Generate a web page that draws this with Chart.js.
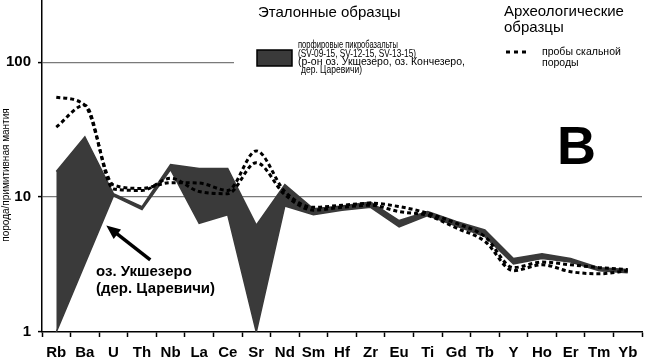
<!DOCTYPE html>
<html>
<head>
<meta charset="utf-8">
<script src="https://cdn.jsdelivr.net/npm/chart.js@4/dist/chart.umd.min.js"></script>
<style>
  body { margin: 0; background: #fff; }
  #wrap { width: 646px; height: 361px; }
</style>
</head>
<body>
<div id="wrap"><canvas id="chart" width="646" height="361"></canvas></div>
<script>
// elements along the x axis
const categories = ['Rb', 'Ba', 'U', 'Th', 'Nb', 'La', 'Ce', 'Sr', 'Nd', 'Sm', 'Hf', 'Zr', 'Eu', 'Ti', 'Gd', 'Tb', 'Y', 'Ho', 'Er', 'Tm', 'Yb']

// reference picrobasalts: envelope of the samples
const bandUpper = [15.5, 28, 10.6, 8.5, 17.4, 16.3, 16.3, 6.2, 12.4, 8.2, 8.6, 9.2, 6.7, 7.8, 6.6, 5.7, 3.5, 3.8, 3.5, 3.0, 2.9]
const bandLower = [1, 3.2, 10.2, 8.1, 16.0, 6.4, 7.4, 1, 8.6, 7.4, 8.0, 8.4, 6.0, 7.3, 6.1, 5.1, 3.2, 3.5, 3.3, 2.85, 2.75]

// archaeological rock samples
const rockA = [55, 48, 12.3, 11.6, 12.8, 12.7, 11.2, 22, 11.0, 8.4, 8.7, 9.0, 8.5, 7.6, 6.4, 5.1, 3.0, 3.3, 3.15, 3.0, 2.9]
const rockB = [33, 48, 11.5, 11.2, 13.8, 11.0, 10.6, 18, 10.4, 8.0, 8.4, 8.7, 7.8, 7.3, 5.9, 4.7, 2.85, 3.15, 2.8, 2.7, 2.85]

const yTicks = [1, 10, 100]

const FONT = '"Liberation Sans", Arial, sans-serif'
const bandColor = '#3a3a3a'

const dashed = (data) => ({
  data: data,
  borderColor: '#000',
  borderWidth: 3,
  borderDash: [4, 3],
  pointRadius: 0,
  fill: false,
  cubicInterpolationMode: 'monotone'
})

// legend, titles and the arrow note
const decor = {
  id: 'decor',
  beforeDatasetsDraw(chart) {
    const ctx = chart.ctx
    ctx.save()
    ctx.fillStyle = '#fff'
    ctx.fillRect(234, 55, 412, 14)
    ctx.restore()
  },
  afterDraw(chart) {
    const ctx = chart.ctx
    const x = chart.scales.x
    const y = chart.scales.y
    ctx.save()
    ctx.fillStyle = '#000'
    ctx.textBaseline = 'middle'

    // y title
    ctx.save()
    ctx.translate(6, 175)
    ctx.rotate(-Math.PI / 2)
    ctx.textAlign = 'center'
    ctx.font = '10px ' + FONT
    ctx.fillText('порода/примитивная мантия', 0, 0)
    ctx.restore()

    ctx.textAlign = 'left'
    ctx.font = '15px ' + FONT
    ctx.fillText('Эталонные образцы', 258, 13)
    ctx.fillText('Археологические', 504, 12)
    ctx.fillText('образцы', 504, 28)

    // band swatch
    ctx.fillStyle = bandColor
    ctx.fillRect(257, 50, 35, 16)
    ctx.strokeStyle = '#000'
    ctx.lineWidth = 1.5
    ctx.strokeRect(257, 50, 35, 16)

    ctx.fillStyle = '#000'
    ctx.font = '10.5px ' + FONT
    ctx.fillText('порфировые пикробазальты', 298, 45.5, 100)
    ctx.fillText('(SV-09-15, SV-12-15, SV-13-15)', 298, 53.8, 118)
    ctx.fillText('(р-он оз. Укшезеро, оз. Кончезеро,', 298, 62, 170)
    ctx.fillText('дер. Царевичи)', 301, 70.3, 61)

    // dashed swatch
    ctx.setLineDash([4, 4])
    ctx.lineWidth = 3
    ctx.beginPath()
    ctx.moveTo(506, 52)
    ctx.lineTo(528, 52)
    ctx.stroke()
    ctx.setLineDash([])
    ctx.fillText('пробы скальной', 542, 52, 82)
    ctx.fillText('породы', 542, 63)

    // big panel letter
    ctx.font = 'bold 54px ' + FONT
    ctx.textBaseline = 'alphabetic'
    ctx.fillText('B', 557, 164)

    // note with arrow
    ctx.textBaseline = 'middle'
    ctx.font = 'bold 15px ' + FONT
    ctx.fillText('оз. Укшезеро', 96, 271.5)
    ctx.fillText('(дер. Царевичи)', 96, 288.5)

    const hx = x.getPixelForValue(1.75), hy = y.getPixelForValue(6.15)
    const tx = x.getPixelForValue(3.29), ty = y.getPixelForValue(3.43)
    const ang = Math.atan2(hy - ty, hx - tx)
    ctx.lineWidth = 3.5
    ctx.beginPath()
    ctx.moveTo(tx, ty)
    ctx.lineTo(hx - 8 * Math.cos(ang), hy - 8 * Math.sin(ang))
    ctx.stroke()
    ctx.beginPath()
    ctx.moveTo(hx, hy)
    ctx.lineTo(hx - 14 * Math.cos(ang) + 6 * Math.sin(ang), hy - 14 * Math.sin(ang) - 6 * Math.cos(ang))
    ctx.lineTo(hx - 14 * Math.cos(ang) - 6 * Math.sin(ang), hy - 14 * Math.sin(ang) + 6 * Math.cos(ang))
    ctx.closePath()
    ctx.fill()
    ctx.restore()
  }
}

new Chart(document.getElementById('chart'), {
  type: 'line',
  data: {
    labels: categories,
    datasets: [
      dashed(rockA),
      dashed(rockB),
      {
        data: bandUpper,
        borderColor: bandColor,
        backgroundColor: bandColor,
        borderWidth: 1.5,
        pointRadius: 0,
        tension: 0,
        fill: '+1'
      },
      {
        data: bandLower,
        borderColor: bandColor,
        borderWidth: 1.5,
        pointRadius: 0,
        tension: 0,
        fill: false
      }
    ]
  },
  options: {
    responsive: false,
    animation: false,
    devicePixelRatio: 1,
    layout: { padding: { left: 0, right: 4, top: 0, bottom: 0 } },
    plugins: { legend: { display: false }, tooltip: { enabled: false } },
    scales: {
      x: {
        offset: true,
        grid: { offset: true, drawOnChartArea: false, tickLength: 5, tickColor: '#000', tickWidth: 1.5 },
        border: { color: '#000', width: 1.5 },
        ticks: {
          autoSkip: false, maxRotation: 0, padding: 7, color: '#000',
          font: { family: FONT, size: 15, weight: 'bold' }
        },
        afterFit(scale) {
          scale.height = 29
          scale.paddingLeft = 0
          scale.paddingRight = 0
        }
      },
      y: {
        type: 'logarithmic',
        min: 1,
        max: 289,
        grid: {
          color: (c) => c.tick && c.tick.value === 1 ? 'rgba(0,0,0,0)' : '#7a7a7a',
          lineWidth: 1.2,
          tickLength: 4,
          tickColor: '#000',
          tickWidth: 1.5
        },
        border: { color: '#000', width: 1.5 },
        afterBuildTicks(scale) {
          scale.ticks = yTicks.map(v => ({ value: v }))
        },
        ticks: {
          padding: 7, color: '#000',
          font: { family: FONT, size: 15, weight: 'bold' },
          callback: (v) => String(v)
        },
        afterFit(scale) {
          scale.width = 42
          scale.paddingTop = 0
          scale.paddingBottom = 0
        }
      }
    }
  },
  plugins: [decor]
})
</script>
</body>
</html>
